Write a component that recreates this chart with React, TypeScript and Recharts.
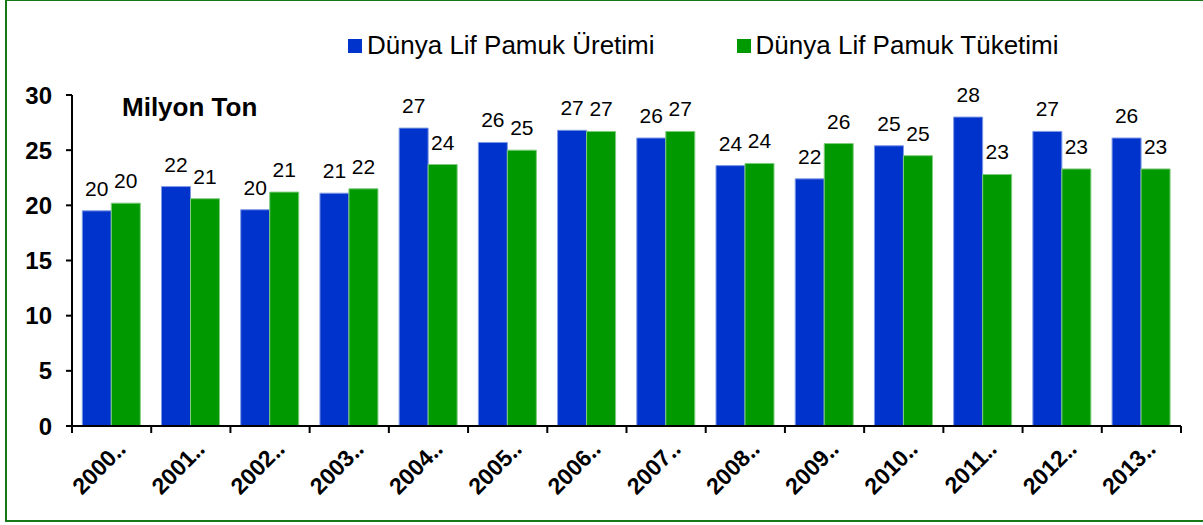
import { BarChart, Bar, XAxis, YAxis, LabelList } from 'recharts';

const years = ['2000‥', '2001‥', '2002‥', '2003‥', '2004‥', '2005‥', '2006‥', '2007‥', '2008‥', '2009‥', '2010‥', '2011‥', '2012‥', '2013‥'];
const production = [19.5, 21.7, 19.6, 21.1, 27.0, 25.7, 26.8, 26.1, 23.6, 22.4, 25.4, 28.0, 26.7, 26.1];
const consumption = [20.2, 20.6, 21.2, 21.5, 23.7, 25.0, 26.7, 26.7, 23.8, 25.6, 24.5, 22.8, 23.3, 23.3];
const yTicks = [0, 5, 10, 15, 20, 25, 30];

const BLUE = '#0033cc';
const GREEN = '#009900';
const FONT = '"Liberation Sans", Arial, sans-serif';

const data = years.map((y, i) => ({ year: y, prod: production[i], cons: consumption[i] }));

// category label plus the tick marks on the band edges (Excel style)
function YearTick({ x, y, payload, visibleTicksCount }: any) {
  const half = payload.offset ?? 0;
  const last = payload.index === (visibleTicksCount ?? years.length) - 1;
  const top = y - 8;
  return (
    <g>
      <line x1={x - half} x2={x - half} y1={top} y2={top + 7} stroke="#000" strokeWidth={2} />
      {last && <line x1={x + half} x2={x + half} y1={top} y2={top + 7} stroke="#000" strokeWidth={2} />}
      <text
        x={x + 15}
        y={y + 17}
        transform={`rotate(-45, ${x + 15}, ${y + 17})`}
        textAnchor="end"
        fontFamily={FONT}
        fontWeight="bold"
        fontSize={23}
        fill="#000"
      >
        {payload.value}
      </text>
    </g>
  );
}

export default function App() {
  return (
    <div style={{ position: 'absolute', left: 0, top: 0, width: 1203, height: 525, background: '#fff', overflow: 'hidden', fontFamily: FONT }}>
      <div style={{ position: 'absolute', left: 5, top: -1, width: 1220, height: 523, border: '2px solid #177817', boxSizing: 'border-box' }} />
      <div style={{ position: 'absolute', left: 348, top: 30, display: 'flex', alignItems: 'center', fontSize: 26, color: '#000' }}>
        <span style={{ width: 14, height: 14, background: BLUE, marginRight: 5 }} />
        <span>Dünya Lif Pamuk Üretimi</span>
        <span style={{ width: 14, height: 14, background: GREEN, marginLeft: 82, marginRight: 5 }} />
        <span>Dünya Lif Pamuk Tüketimi</span>
      </div>
      <div style={{ position: 'absolute', left: 122, top: 92, fontSize: 26, fontWeight: 'bold', color: '#000' }}>Milyon Ton</div>
      <BarChart
        width={1203}
        height={525}
        data={data}
        margin={{ top: 95, right: 22, left: 0, bottom: 29 }}
        barCategoryGap="13%"
        barGap={0}
      >
        <XAxis
          dataKey="year"
          interval={0}
          tickLine={false}
          tickSize={0}
          tickMargin={8}
          axisLine={{ stroke: '#000', strokeWidth: 2 }}
          tick={<YearTick />}
          height={70}
        />
        <YAxis
          domain={[0, 30]}
          ticks={yTicks}
          width={72}
          axisLine={{ stroke: '#000', strokeWidth: 2 }}
          tickLine={{ stroke: '#000', strokeWidth: 2 }}
          tickSize={6}
          tickMargin={14}
          tick={{ fontFamily: FONT, fontWeight: 'bold', fontSize: 24, fill: '#000' }}
        />
        <Bar dataKey="prod" fill={BLUE} stroke="#7f99e5" strokeWidth={1} isAnimationActive={false}>
          <LabelList dataKey="prod" position="top" offset={15} formatter={(v: any) => Math.round(v)} style={{ fontFamily: FONT, fontSize: 21, fill: '#000' }} />
        </Bar>
        <Bar dataKey="cons" fill={GREEN} stroke="#7fcc7f" strokeWidth={1} isAnimationActive={false}>
          <LabelList dataKey="cons" position="top" offset={15} formatter={(v: any) => Math.round(v)} style={{ fontFamily: FONT, fontSize: 21, fill: '#000' }} />
        </Bar>
      </BarChart>
    </div>
  );
}
